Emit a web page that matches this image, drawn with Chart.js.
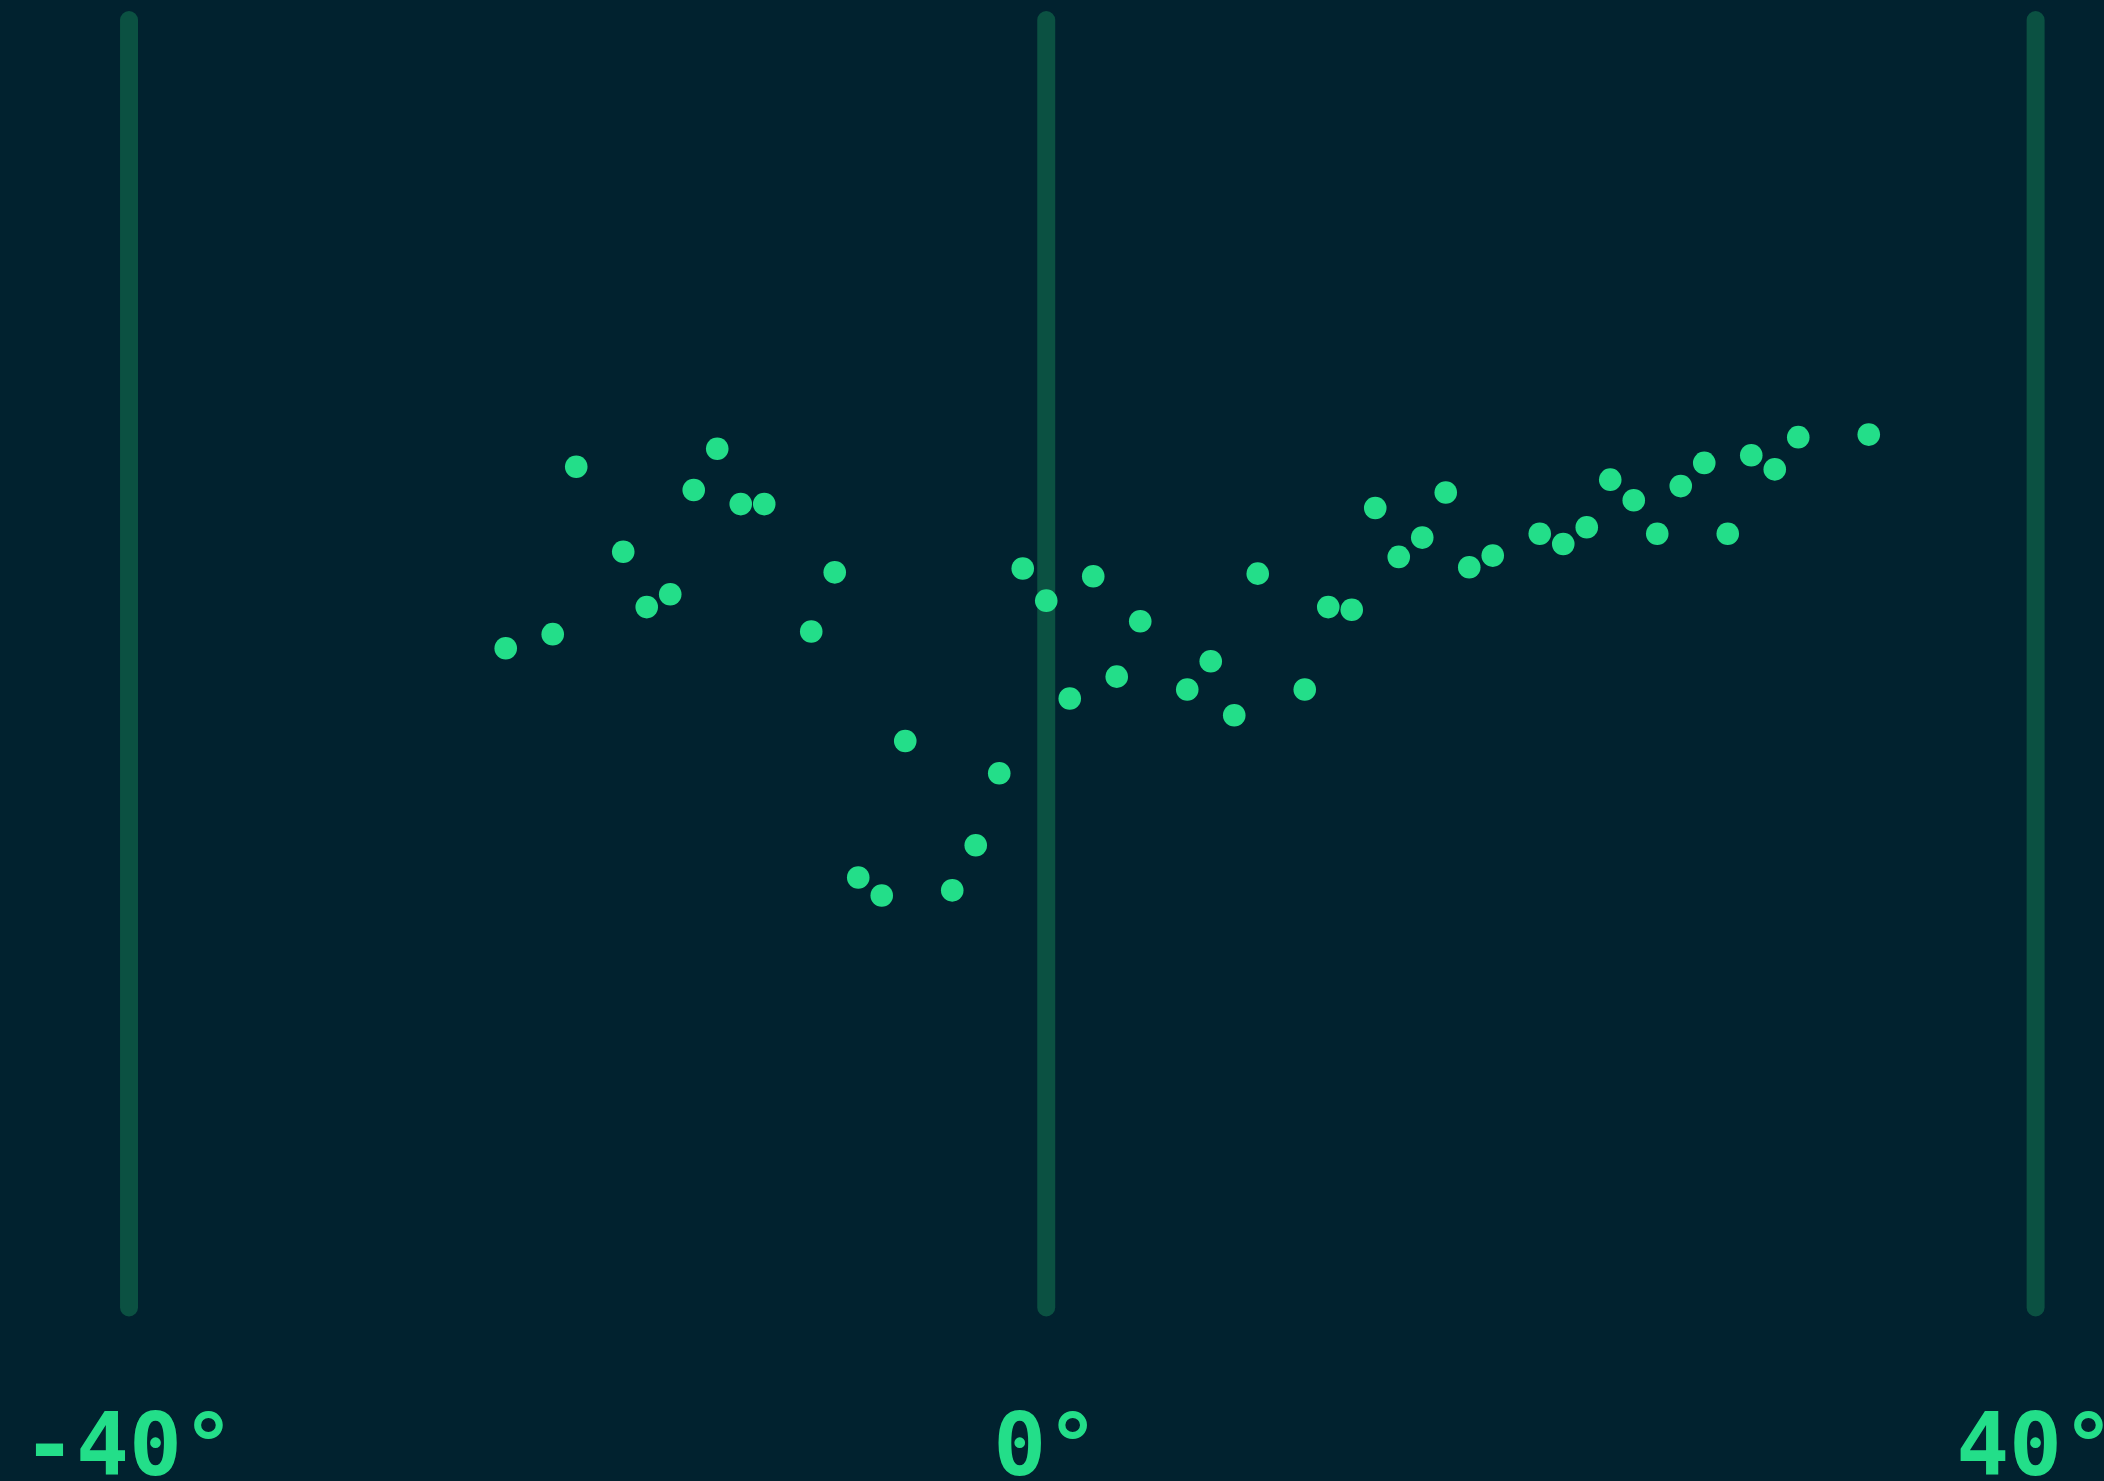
<!DOCTYPE html>
<html>
<head>
<meta charset="utf-8">
<script src="https://cdn.jsdelivr.net/npm/chart.js@4.4.1/dist/chart.umd.min.js"></script>
<style>
    html, body { margin: 0; padding: 0; background: #01222f; overflow: hidden; }
    #wrap { width: 2104px; height: 1481px; position: relative; }
</style>
</head>
<body>
<div id="wrap"><canvas id="myChart"></canvas></div>
<script>
// positions along the x axis (one step per column of dots, 0 = the 0° line)
const xSteps = [-23, -21, -20, -18, -17, -16, -15, -14, -13, -12, -10, -9, -8, -7, -6,
    -4, -3, -2, -1, 0, 1, 2, 3, 4, 6, 7, 8, 9, 11, 12, 13, 14, 15, 16, 17, 18, 19,
    21, 22, 23, 24, 25, 26, 27, 28, 29, 30, 31, 32, 35];
const yValues = [51.2, 52.3, 65.3, 58.7, 54.4, 55.4, 63.5, 66.7, 62.4, 62.4, 52.5, 57.1, 33.4, 32.0, 44.0,
    32.4, 35.9, 41.5, 57.4, 54.9, 47.3, 56.8, 49.0, 53.3, 48.0, 50.2, 46.0, 57.0, 48.0, 54.4, 54.2, 62.1, 58.3, 59.8, 63.3, 57.5, 58.4,
    60.1, 59.3, 60.6, 64.3, 62.7, 60.1, 63.8, 65.6, 60.1, 66.2, 65.1, 67.6, 67.8];
const tickSteps = [-39.03, 0, 42.1];
const tickLabels = ['-40°', '0°', '40°'];

const dotColor = '#23de89';
const gridColor = '#0b5142';

// chart.js grid lines have flat ends, the reference has rounded ones
const roundGrid = {
    id: 'roundGrid',
    beforeDatasetsDraw(chart) {
        let ctx = chart.ctx;
        let xScale = chart.scales.x;
        let area = chart.chartArea;
        ctx.save();
        ctx.strokeStyle = gridColor;
        ctx.lineWidth = 18;
        ctx.lineCap = 'round';
        xScale.ticks.forEach(tick => {
            let px = xScale.getPixelForValue(tick.value);
            ctx.beginPath();
            ctx.moveTo(px, area.top);
            ctx.lineTo(px, area.bottom);
            ctx.stroke();
        });
        ctx.restore();
    }
};

function setupChart() {
    let ctx = document.getElementById('myChart').getContext('2d');
    let points = xSteps.map((x, i) => ({ x: x, y: yValues[i] }));

    new Chart(ctx, {
        type: 'scatter',
        data: {
            datasets: [{
                data: points,
                backgroundColor: dotColor,
                borderWidth: 0,
                pointRadius: 11.3,
                pointHoverRadius: 11.3
            }]
        },
        options: {
            responsive: true,
            maintainAspectRatio: false,
            devicePixelRatio: 1,
            animation: false,
            layout: {
                autoPadding: false,
                padding: { top: 20, left: 0, right: 0, bottom: 0 }
            },
            plugins: {
                legend: { display: false },
                tooltip: { enabled: false }
            },
            scales: {
                x: {
                    type: 'linear',
                    min: -44.52,
                    max: 45.01,
                    afterBuildTicks: scale => {
                        scale.ticks = tickSteps.map(v => ({ value: v }));
                    },
                    afterFit: scale => {
                        // fixed axis band, labels are allowed to reach the edges
                        scale.height = 173.5;
                        scale.paddingLeft = 0;
                        scale.paddingRight = 0;
                    },
                    grid: { display: false, drawTicks: false },
                    border: { display: false },
                    ticks: {
                        padding: 92,
                        color: dotColor,
                        maxRotation: 0,
                        autoSkip: false,
                        font: { family: 'DejaVu Sans Mono', weight: 'bold', size: 88 },
                        callback: (value, index) => tickLabels[index]
                    }
                },
                y: {
                    display: false,
                    min: 0,
                    max: 100
                }
            }
        },
        plugins: [roundGrid]
    });
}

document.addEventListener('DOMContentLoaded', setupChart);
</script>
</body>
</html>
